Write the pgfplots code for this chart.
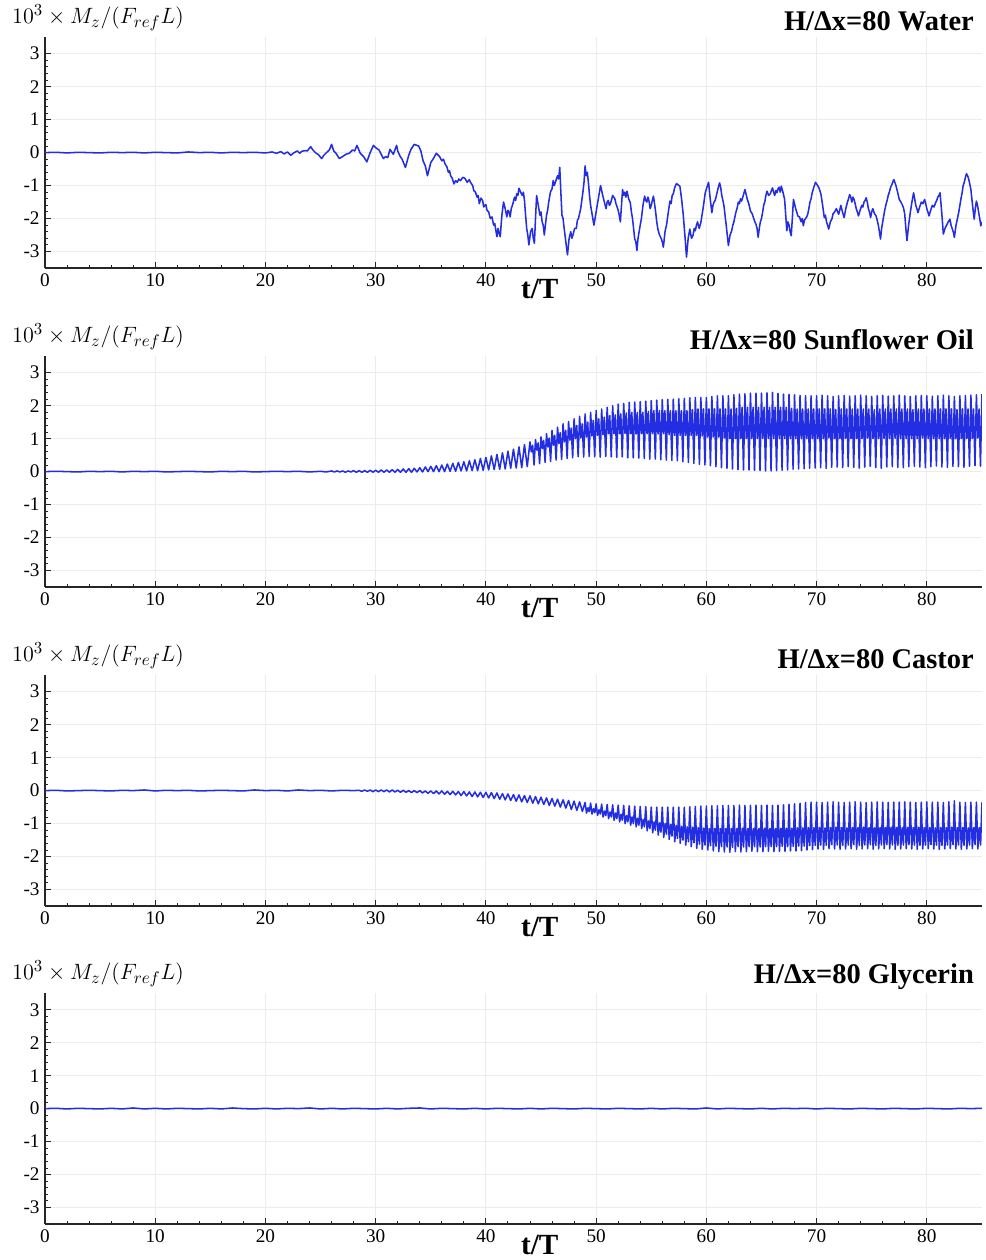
\documentclass[border=0pt]{standalone}
\usepackage{fontspec}
\setmainfont{Liberation Serif}
\usepackage{pgfplots}
\pgfplotsset{compat=1.18}

\definecolor{lineblue}{RGB}{35,45,225}

\pgfplotsset{
  panel/.style={
    scale only axis,
    width=609pt, height=150pt,
    xmin=0, xmax=85, ymin=-3.5, ymax=3.5,
    axis x line*=bottom, axis y line*=left,
    axis line style={-, line width=0.9pt, black!85},
    xtick={0,10,...,80}, ytick={-3,...,3},
    xticklabels={0,10,20,30,40,50,60,70,80},
    yticklabels={-3,-2,-1,0,1,2,3},
    minor x tick num=4, minor y tick num=4,
    tick align=inside,
    major tick length=4pt, minor tick length=2pt,
    tick style={black!85, line width=0.6pt},
    grid=major,
    major grid style={gray!15, line width=0.6pt},
    tick label style={font=\fontsize{12.5}{14}\selectfont},
    clip mode=individual,
  },
  mz/.style={draw=lineblue, line width=1pt, line join=round, mark=none},
}

\newcommand{\paneltext}[1]{%
  \node[anchor=east, xshift=-1.75pt, yshift=10.5pt, font=\fontsize{18.5}{20}\selectfont\bfseries]
    at (rel axis cs:1,1) {#1};
  \node[anchor=west, inner sep=0pt, xshift=-21.5pt, yshift=12.5pt, font=\fontsize{15.2}{17}\selectfont]
    at (rel axis cs:0,1) {$10^3\times M_z/(F_{ref}L)$};
  \node[inner sep=0pt, yshift=-13.5pt, font=\fontsize{19}{21}\selectfont\bfseries]
    at (rel axis cs:0.528,0) {t/T};
}

\begin{document}
\begin{tikzpicture}
\useasboundingbox (-29.25pt,-644.8pt) rectangle (611pt,174.2pt);

% ---------------- Water ----------------
\begin{axis}[panel, at={(0pt,0pt)}]
\addplot[mz] coordinates {
(0,0)(1,0.01)(2,-0.01)(3,0.01)(4,0)(5,-0.01)(6,0.01)(7,0)(8,0.01)(9,-0.01)
(10,0.01)(11,0)(12,-0.01)(13,0.02)(14,0)(15,0.01)(16,-0.01)(17,0.01)(18,0)(19,0.01)(20,-0.01)
(20.6,0.02)(21.0,-0.02)(21.4,0.03)(21.7,-0.04)(22.0,0.02)(22.3,-0.08)(22.6,0.0)(22.9,0.05)
(23.1,-0.02)(23.3,0.04)(23.6,0.06)(23.8,0.05)(24.1,0.18)(24.3,0.08)(24.6,-0.02)(24.8,-0.06)
(25.1,-0.18)(25.3,-0.08)(25.6,0.02)(25.8,0.08)(26.0,0.25)(26.2,0.05)(26.4,-0.02)(26.7,-0.18)
(27.0,-0.12)(27.3,-0.05)(27.6,-0.02)(27.9,0.08)(28.1,0.05)(28.3,0.22)(28.6,-0.02)(28.9,-0.12)
(29.2,-0.28)(29.5,0.0)(29.8,0.22)(30.0,0.15)(30.3,0.08)(30.5,-0.05)(30.7,-0.18)(30.9,-0.12)
(31.1,-0.15)(31.3,0.1)(31.6,-0.05)(31.9,0.22)(32.0,0.05)(32.2,-0.1)(32.4,-0.2)(32.7,-0.45)
(33.0,-0.08)(33.2,0.1)(33.5,0.25)(33.9,0.2)(34.1,0.05)(34.3,-0.25)(34.5,-0.4)(34.7,-0.7)
(35.0,-0.3)(35.2,-0.2)(35.5,-0.02)(35.8,-0.12)
(36.0,-0.25)(36.15,-0.2)(36.3,-0.35)(36.45,-0.42)(36.6,-0.6)(36.7,-0.55)(36.8,-0.7)(36.95,-0.78)
(37.1,-0.95)(37.25,-0.85)(37.4,-0.9)(37.55,-0.8)(37.7,-0.85)(37.9,-0.75)(38.1,-0.78)(38.3,-0.9)
(38.5,-0.82)(38.6,-0.9)(38.7,-0.95)(38.8,-1.0)(38.9,-1.15)(39.05,-1.2)(39.2,-1.35)(39.3,-1.3)
(39.4,-1.55)(39.55,-1.38)(39.7,-1.45)(39.8,-1.65)(39.9,-1.6)(40.0,-1.58)(40.1,-1.75)(40.25,-1.8)
(40.4,-2.0)(40.55,-1.95)(40.7,-2.2)(40.8,-2.15)(40.9,-2.35)(41.0,-2.55)(41.1,-2.3)(41.2,-2.45)
(41.3,-2.55)(41.45,-1.9)(41.6,-1.5)(41.75,-1.7)(41.9,-1.95)(42.0,-1.75)(42.1,-1.8)(42.2,-1.95)
(42.3,-1.7)(42.45,-1.55)(42.6,-1.35)(42.7,-1.45)(42.8,-1.25)(42.9,-1.3)(43.0,-1.08)(43.15,-1.2)
(43.3,-1.3)(43.4,-1.2)(43.5,-1.45)(43.6,-1.9)(43.7,-2.3)(43.8,-2.5)(43.9,-2.8)(44.05,-2.4)
(44.2,-2.3)(44.3,-2.6)(44.4,-2.75)(44.5,-2.0)(44.6,-1.3)(44.75,-1.6)(44.9,-1.9)(45.0,-1.8)
(45.1,-2.1)(45.2,-2.2)(45.3,-2.5)(45.4,-2.2)(45.5,-1.9)(45.6,-1.75)(45.7,-1.5)(45.85,-1.2)
(46.0,-1.1)(46.1,-0.85)(46.2,-1.0)(46.3,-0.9)(46.4,-0.8)(46.5,-0.7)(46.6,-0.8)(46.7,-0.45)
(46.8,-1.2)(46.9,-1.9)(47.0,-2.0)(47.1,-2.3)(47.25,-2.7)(47.4,-3.1)(47.55,-2.6)(47.7,-2.4)
(47.8,-2.6)(47.9,-2.5)(48.05,-2.3)(48.2,-2.3)(48.3,-2.05)(48.4,-2.0)(48.5,-1.85)(48.6,-1.7)
(48.7,-1.45)(48.8,-1.2)(48.9,-0.9)(49.0,-0.4)(49.05,-0.55)(49.1,-0.7)(49.2,-0.6)(49.3,-0.9)
(49.4,-1.3)(49.5,-1.6)(49.65,-1.9)(49.8,-2.2)(49.95,-1.9)(50.1,-1.6)(50.25,-1.3)(50.4,-1.0)
(50.5,-1.15)(50.6,-1.3)(50.75,-1.5)(50.9,-1.7)(51.0,-1.5)(51.1,-1.45)(51.2,-1.6)(51.3,-1.55)
(51.5,-1.3)(51.7,-1.4)(51.8,-1.55)(51.9,-1.65)(52.0,-1.75)(52.1,-1.9)(52.2,-2.1)(52.3,-1.6)
(52.4,-1.12)(52.5,-1.3)(52.6,-1.2)(52.7,-1.35)(52.8,-1.17)(52.95,-1.4)(53.1,-1.52)(53.2,-1.8)
(53.3,-2.0)(53.4,-2.3)(53.5,-2.62)(53.6,-2.7)(53.7,-2.97)(53.8,-2.6)(53.9,-2.4)(54.0,-2.2)
(54.1,-2.02)(54.25,-1.6)(54.4,-1.32)(54.5,-1.45)(54.6,-1.5)(54.7,-1.35)(54.8,-1.47)(54.9,-1.7)
(55.0,-1.6)(55.1,-1.45)(55.2,-1.32)(55.3,-1.55)(55.4,-1.8)(55.5,-2.1)(55.6,-2.32)(55.75,-2.5)
(55.9,-2.6)(56.0,-2.7)(56.1,-2.87)(56.25,-2.4)(56.4,-2.17)(56.55,-1.8)(56.7,-1.47)(56.8,-1.55)
(56.9,-1.3)(57.0,-1.25)(57.1,-1.1)(57.2,-1.0)(57.3,-0.94)(57.45,-0.98)(57.6,-1.02)(57.75,-1.4)
(57.9,-1.87)(58.05,-2.5)(58.2,-3.17)(58.35,-2.6)(58.5,-2.32)(58.65,-2.6)(58.8,-2.5)(58.9,-2.3)
(59.0,-2.37)(59.1,-2.2)(59.2,-2.1)(59.35,-2.3)(59.5,-2.12)(59.7,-1.7)(59.9,-1.22)(60.05,-1.05)
(60.2,-0.9)(60.35,-1.4)(60.5,-1.82)(60.6,-1.6)(60.7,-1.5)(60.8,-1.45)(60.9,-1.32)(61.05,-1.1)
(61.2,-0.92)(61.3,-1.05)(61.4,-1.3)(61.5,-1.45)(61.6,-1.62)(61.8,-2.2)(62.0,-2.82)(62.15,-2.5)
(62.3,-2.37)(62.4,-2.2)(62.5,-2.1)(62.65,-1.85)(62.8,-1.67)(62.9,-1.5)(63.0,-1.55)(63.1,-1.4)
(63.2,-1.47)(63.35,-1.3)(63.5,-1.12)(63.6,-1.25)(63.7,-1.4)(63.85,-1.55)(64.0,-1.77)(64.15,-1.85)
(64.3,-2.0)(64.4,-2.1)(64.5,-2.17)(64.6,-2.3)(64.7,-2.57)(64.8,-2.3)(64.9,-2.1)(65.0,-2.0)
(65.1,-1.82)(65.2,-1.6)(65.3,-1.5)(65.4,-1.3)(65.5,-1.17)(65.65,-1.3)(65.8,-1.25)(65.9,-1.15)
(66.0,-1.07)(66.1,-1.2)(66.2,-1.3)(66.3,-1.15)(66.4,-1.22)(66.5,-1.1)(66.6,-1.05)(66.7,-1.2)
(66.8,-1.02)(66.95,-1.2)(67.1,-1.42)(67.2,-1.9)(67.3,-2.37)(67.4,-2.1)(67.5,-2.2)(67.6,-2.4)
(67.7,-2.52)(67.8,-2.0)(67.9,-1.42)(68.0,-1.55)(68.1,-1.7)(68.2,-1.8)(68.3,-1.92)(68.45,-1.95)
(68.6,-2.1)(68.7,-2.0)(68.8,-2.22)(68.9,-2.05)(69.0,-2.0)(69.1,-1.95)(69.2,-1.87)(69.3,-1.7)
(69.4,-1.5)(69.5,-1.4)(69.6,-1.22)(69.75,-1.05)(69.9,-0.9)(70.0,-0.95)(70.1,-1.0)(70.25,-1.1)
(70.4,-1.27)(70.55,-1.6)(70.7,-1.97)(70.8,-1.9)(70.9,-2.1)(71.0,-2.2)(71.1,-2.32)(71.25,-2.1)
(71.4,-2.0)(71.5,-1.85)(71.6,-1.82)(71.8,-1.7)(72.0,-1.87)(72.1,-1.75)(72.2,-1.6)(72.35,-1.8)
(72.5,-1.97)(72.65,-1.7)(72.8,-1.5)(72.9,-1.4)(73.0,-1.27)(73.1,-1.35)(73.2,-1.5)(73.3,-1.35)
(73.4,-1.42)(73.5,-1.55)(73.6,-1.7)(73.7,-1.8)(73.8,-1.92)(73.95,-1.75)(74.1,-1.6)(74.2,-1.65)
(74.3,-1.5)(74.4,-1.45)(74.5,-1.37)(74.6,-1.5)(74.7,-1.7)(74.8,-1.8)(74.9,-1.97)(75.0,-1.8)
(75.1,-1.7)(75.25,-1.85)(75.4,-1.92)(75.5,-2.05)(75.6,-2.2)(75.7,-2.4)(75.8,-2.62)(75.9,-2.3)
(76.0,-2.1)(76.15,-1.8)(76.3,-1.57)(76.4,-1.45)(76.5,-1.3)(76.6,-1.2)(76.7,-1.07)(76.85,-0.95)
(77.0,-0.82)(77.1,-0.9)(77.2,-1.0)(77.35,-1.2)(77.5,-1.42)(77.65,-1.5)(77.8,-1.6)(77.9,-1.7)
(78.0,-1.87)(78.1,-2.3)(78.2,-2.67)(78.35,-2.2)(78.5,-1.82)(78.65,-1.5)(78.8,-1.22)(78.9,-1.4)
(79.0,-1.6)(79.1,-1.7)(79.2,-1.82)(79.35,-1.65)(79.5,-1.5)(79.65,-1.55)(79.8,-1.42)(79.9,-1.55)
(80.0,-1.7)(80.1,-1.8)(80.2,-1.92)(80.35,-1.75)(80.5,-1.6)(80.65,-1.65)(80.8,-1.52)(80.9,-1.45)
(81.0,-1.35)(81.1,-1.3)(81.2,-1.22)(81.35,-1.8)(81.5,-2.47)(81.65,-2.3)(81.8,-2.2)(81.95,-2.1)
(82.1,-2.02)(82.2,-2.2)(82.3,-2.3)(82.4,-2.4)(82.5,-2.57)(82.65,-2.2)(82.8,-1.97)(82.9,-1.8)
(83.0,-1.6)(83.1,-1.4)(83.2,-1.22)(83.3,-1.0)(83.4,-0.9)(83.5,-0.75)(83.6,-0.64)(83.7,-0.7)
(83.8,-0.8)(83.9,-0.95)(84.0,-1.12)(84.15,-1.6)(84.3,-2.02)(84.4,-1.7)(84.5,-1.47)(84.6,-1.6)
(84.7,-1.8)(84.8,-2.0)(84.9,-2.22)(85.0,-2.1)
};
\paneltext{H/Δx=80 Water}
\end{axis}

% ---------------- Sunflower Oil ----------------
\begin{axis}[panel, at={(0pt,-207.35pt)}]
\addplot[mz] coordinates {
(0,0)(1,0.01)(2,0)(3,-0.01)(4,0.01)(5,0)(6,0.01)(7,-0.01)(8,0.01)(9,0)(10,0.01)(11,-0.01)
(12,0)(13,0.01)(14,0)(15,-0.01)(16,0.01)(17,0)(18,0.01)(19,-0.01)(20,0)(21,0.01)(22,0)
(23,0.01)(24,-0.01)(25,0.01)(25.5,-0.01)
(26,0.02)(26.25,-0.01)(26.5,0.02)(26.75,-0.01)(27,0.02)(27.25,-0.02)(27.5,0.02)(27.75,-0.01)
(28,0.03)(28.25,-0.02)(28.5,0.03)(28.75,-0.02)(29,0.03)(29.25,-0.02)(29.5,0.04)(29.75,-0.02)
(30,0.04)(30.25,-0.02)(30.5,0.05)(30.75,-0.02)(31,0.05)(31.25,-0.02)(31.5,0.06)(31.75,-0.02)
(32,0.07)(32.25,-0.02)(32.5,0.08)(32.75,-0.02)(33,0.09)(33.25,-0.02)(33.5,0.10)(33.75,-0.01)
(34,0.12)(34.25,-0.01)(34.5,0.14)(34.75,0.00)(35,0.16)(35.25,0.00)(35.5,0.18)(35.75,0.00)
(36,0.20)(36.25,0.00)(36.5,0.23)(36.75,0.01)(37,0.25)(37.25,0.01)(37.5,0.28)(37.75,0.02)
(38,0.30)(38.25,0.02)(38.5,0.33)(38.75,0.03)(39,0.36)(39.25,0.03)(39.5,0.40)(39.75,0.04)
(40,0.43)(40.25,0.05)(40.5,0.48)(40.75,0.06)(41,0.52)(41.25,0.07)(41.5,0.57)(41.75,0.08)
(42,0.62)(42.25,0.10)(42.5,0.68)(42.75,0.11)(43,0.75)(43.25,0.12)(43.5,0.82)(43.75,0.15)
(44,0.90)(44.12,0.60)(44.24,0.80)(44.37,0.20)
(44.5,0.97)(44.62,0.65)(44.74,0.87)(44.87,0.24)
(45,1.05)(45.12,0.70)(45.24,0.95)(45.37,0.28)
(45.5,1.15)(45.62,0.75)(45.74,1.02)(45.87,0.31)
(46,1.25)(46.12,0.80)(46.24,1.10)(46.37,0.35)
(46.5,1.35)(46.62,0.85)(46.74,1.18)(46.87,0.37)
(47,1.45)(47.12,0.90)(47.24,1.25)(47.37,0.40)
(47.5,1.52)(47.62,0.95)(47.74,1.32)(47.87,0.42)
(48,1.60)(48.12,1.00)(48.24,1.40)(48.37,0.45)
(48.5,1.68)(48.62,1.02)(48.74,1.45)(48.87,0.44)
(49,1.75)(49.12,1.05)(49.24,1.50)(49.37,0.46)
(49.5,1.80)(49.62,1.08)(49.74,1.55)(49.87,0.45)
(50,1.85)(50.12,1.10)(50.24,1.60)(50.37,0.44)
(50.5,1.90)(50.62,1.12)(50.74,1.65)(50.87,0.46)
(51,1.95)(51.12,1.15)(51.24,1.70)(51.37,0.45)
(51.5,2.00)(51.62,1.15)(51.74,1.72)(51.87,0.43)
(52,2.05)(52.12,1.15)(52.24,1.75)(52.37,0.45)
(52.5,2.07)(52.62,1.16)(52.74,1.78)(52.87,0.42)
(53,2.10)(53.12,1.15)(53.24,1.80)(53.37,0.42)
(53.5,2.11)(53.62,1.14)(53.74,1.80)(53.87,0.41)
(54,2.12)(54.12,1.15)(54.24,1.80)(54.37,0.40)
(54.5,2.14)(54.62,1.15)(54.74,1.83)(54.87,0.38)
(55,2.15)(55.12,1.15)(55.24,1.85)(55.37,0.38)
(55.5,2.17)(55.62,1.14)(55.74,1.85)(55.87,0.36)
(56,2.18)(56.12,1.15)(56.24,1.85)(56.37,0.35)
(56.5,2.19)(56.62,1.12)(56.74,1.85)(56.87,0.34)
(57,2.20)(57.12,1.10)(57.24,1.85)(57.37,0.33)
(57.5,2.21)(57.62,1.10)(57.74,1.85)(57.87,0.30)
(58,2.22)(58.12,1.10)(58.24,1.85)(58.37,0.28)
(58.5,2.24)(58.62,1.10)(58.74,1.88)(58.87,0.25)
(59,2.25)(59.12,1.10)(59.24,1.90)(59.37,0.22)
(59.5,2.25)(59.62,1.08)(59.74,1.90)(59.87,0.20)
(60,2.25)(60.12,1.05)(60.24,1.90)(60.37,0.18)
(60.5,2.28)(60.62,1.05)(60.74,1.90)(60.87,0.15)
(61,2.30)(61.12,1.05)(61.24,1.90)(61.37,0.12)
(61.5,2.30)(61.62,1.02)(61.74,1.90)(61.87,0.10)
(62,2.30)(62.12,1.00)(62.24,1.90)(62.37,0.08)
(62.5,2.33)(62.62,1.00)(62.74,1.92)(62.87,0.06)
(63,2.35)(63.12,1.00)(63.24,1.95)(63.37,0.05)
(63.5,2.36)(63.62,1.00)(63.74,1.95)(63.87,0.05)
(64,2.38)(64.12,1.00)(64.24,1.95)(64.37,0.04)
(64.5,2.38)(64.62,1.00)(64.74,1.95)(64.87,0.03)
(65,2.38)(65.12,1.00)(65.24,1.95)(65.37,0.02)
(65.5,2.39)(65.62,1.00)(65.74,1.95)(65.87,0.02)
(66,2.40)(66.12,1.00)(66.24,1.95)(66.37,0.03)
(66.5,2.37)(66.62,1.00)(66.74,1.95)(66.87,0.04)
(67,2.35)(67.12,1.00)(67.24,1.95)(67.37,0.05)
(67.5,2.34)(67.62,1.00)(67.74,1.92)(67.87,0.07)
(68,2.33)(68.12,1.00)(68.24,1.90)(68.37,0.08)
(68.5,2.31)(68.62,1.00)(68.74,1.90)(68.87,0.09)
(69,2.30)(69.12,1.00)(69.24,1.90)(69.37,0.10)
(69.5,2.30)(69.62,1.00)(69.74,1.90)(69.87,0.11)
(70,2.30)(70.12,1.00)(70.24,1.90)(70.37,0.12)
(70.5,2.32)(70.62,1.00)(70.74,1.90)(70.87,0.10)
(71,2.30)(71.12,1.02)(71.24,1.90)(71.37,0.13)
(71.5,2.28)(71.62,1.00)(71.74,1.88)(71.87,0.14)
(72,2.30)(72.12,1.00)(72.24,1.90)(72.37,0.12)
(72.5,2.31)(72.62,1.01)(72.74,1.90)(72.87,0.15)
(73,2.29)(73.12,1.00)(73.24,1.90)(73.37,0.13)
(73.5,2.30)(73.62,1.00)(73.74,1.90)(73.87,0.11)
(74,2.32)(74.12,1.00)(74.24,1.90)(74.37,0.14)
(74.5,2.30)(74.62,1.02)(74.74,1.90)(74.87,0.16)
(75,2.28)(75.12,1.00)(75.24,1.88)(75.37,0.12)
(75.5,2.30)(75.62,1.00)(75.74,1.90)(75.87,0.10)
(76,2.31)(76.12,1.00)(76.24,1.90)(76.37,0.14)
(76.5,2.29)(76.62,1.00)(76.74,1.90)(76.87,0.15)
(77,2.30)(77.12,1.01)(77.24,1.90)(77.37,0.13)
(77.5,2.32)(77.62,1.00)(77.74,1.90)(77.87,0.12)
(78,2.30)(78.12,1.00)(78.24,1.90)(78.37,0.15)
(78.5,2.28)(78.62,1.00)(78.74,1.88)(78.87,0.16)
(79,2.30)(79.12,1.00)(79.24,1.90)(79.37,0.14)
(79.5,2.31)(79.62,1.02)(79.74,1.90)(79.87,0.12)
(80,2.30)(80.12,1.00)(80.24,1.90)(80.37,0.15)
(80.5,2.29)(80.62,1.00)(80.74,1.90)(80.87,0.17)
(81,2.30)(81.12,1.00)(81.24,1.90)(81.37,0.14)
(81.5,2.32)(81.62,1.00)(81.74,1.90)(81.87,0.13)
(82,2.30)(82.12,1.01)(82.24,1.90)(82.37,0.16)
(82.5,2.28)(82.62,1.00)(82.74,1.88)(82.87,0.15)
(83,2.30)(83.12,1.00)(83.24,1.90)(83.37,0.13)
(83.5,2.31)(83.62,1.00)(83.74,1.90)(83.87,0.16)
(84,2.32)(84.12,1.00)(84.24,1.90)(84.37,0.18)
(84.5,2.33)(84.62,1.02)(84.74,1.90)(84.87,0.17)
(85,2.35)
};
\paneltext{H/Δx=80 Sunflower Oil}
\end{axis}

% ---------------- Castor ----------------
\begin{axis}[panel, at={(0pt,-414.7pt)}]
\addplot[mz] coordinates {
(0,0)(1,0.01)(2,-0.01)(3,0)(4,0.01)(5,0)(6,-0.01)(7,0.01)(8,0)(9,0.02)(10,-0.01)(11,0.01)
(12,0)(13,0.01)(14,-0.01)(15,0)(16,0.01)(17,0)(18,-0.01)(19,0.02)(20,0)(21,0.01)(22,-0.01)
(23,0.02)(24,0)(25,0.01)(26,-0.01)(27,0.01)(28,0)(28.5,0.01)(28.75,-0.02)
(29,0.02)(29.25,-0.02)(29.5,0.02)(29.75,-0.03)(30,0.02)(30.25,-0.03)(30.5,0.02)(30.75,-0.03)
(31,0.02)(31.25,-0.04)(31.5,0.02)(31.75,-0.04)(32,0.01)(32.25,-0.05)(32.5,0.01)(32.75,-0.05)
(33,0.00)(33.25,-0.06)(33.5,0.00)(33.75,-0.06)(34,0.00)(34.25,-0.07)(34.5,-0.01)(34.75,-0.08)
(35,-0.01)(35.25,-0.09)(35.5,-0.01)(35.75,-0.10)(36,-0.01)(36.25,-0.11)(36.5,-0.02)(36.75,-0.12)
(37,-0.02)(37.25,-0.13)(37.5,-0.03)(37.75,-0.15)(38,-0.03)(38.25,-0.16)(38.5,-0.04)(38.75,-0.18)
(39,-0.04)(39.25,-0.19)(39.5,-0.05)(39.75,-0.21)(40,-0.05)(40.25,-0.22)(40.5,-0.06)(40.75,-0.24)
(41,-0.07)(41.25,-0.26)(41.5,-0.09)(41.75,-0.28)(42,-0.10)(42.25,-0.30)(42.5,-0.12)(42.75,-0.32)
(43,-0.13)(43.25,-0.34)(43.5,-0.15)(43.75,-0.36)(44,-0.16)(44.25,-0.38)(44.5,-0.18)(44.75,-0.40)
(45,-0.20)(45.25,-0.42)(45.5,-0.22)(45.75,-0.45)(46,-0.24)(46.25,-0.47)(46.5,-0.26)(46.75,-0.50)
(47,-0.28)(47.25,-0.53)(47.5,-0.30)(47.75,-0.57)(48,-0.32)(48.25,-0.60)(48.5,-0.34)(48.75,-0.63)
(49,-0.36)(49.13,-0.68)(49.26,-0.52)(49.38,-0.64)
(49.5,-0.38)(49.63,-0.71)(49.76,-0.55)(49.88,-0.67)
(50,-0.40)(50.13,-0.75)(50.26,-0.58)(50.38,-0.71)
(50.5,-0.41)(50.63,-0.80)(50.76,-0.62)(50.88,-0.76)
(51,-0.42)(51.13,-0.85)(51.26,-0.65)(51.38,-0.80)
(51.5,-0.43)(51.63,-0.90)(51.76,-0.68)(51.88,-0.85)
(52,-0.44)(52.13,-0.95)(52.26,-0.72)(52.38,-0.90)
(52.5,-0.45)(52.63,-1.00)(52.76,-0.76)(52.88,-0.95)
(53,-0.46)(53.13,-1.05)(53.26,-0.80)(53.38,-1.00)
(53.5,-0.47)(53.63,-1.10)(53.76,-0.84)(53.88,-1.05)
(54,-0.48)(54.13,-1.15)(54.26,-0.88)(54.38,-1.10)
(54.5,-0.49)(54.63,-1.22)(54.76,-0.92)(54.88,-1.15)
(55,-0.50)(55.13,-1.28)(55.26,-0.95)(55.38,-1.20)
(55.5,-0.50)(55.63,-1.35)(55.76,-0.98)(55.88,-1.26)
(56,-0.50)(56.13,-1.42)(56.26,-1.00)(56.38,-1.32)
(56.5,-0.50)(56.63,-1.48)(56.76,-1.03)(56.88,-1.38)
(57,-0.50)(57.13,-1.55)(57.26,-1.05)(57.38,-1.45)
(57.5,-0.50)(57.63,-1.60)(57.76,-1.08)(57.88,-1.50)
(58,-0.50)(58.13,-1.65)(58.26,-1.10)(58.38,-1.55)
(58.5,-0.49)(58.63,-1.70)(58.76,-1.11)(58.88,-1.58)
(59,-0.48)(59.13,-1.75)(59.26,-1.12)(59.38,-1.62)
(59.5,-0.47)(59.63,-1.78)(59.76,-1.14)(59.88,-1.65)
(60,-0.47)(60.13,-1.80)(60.26,-1.15)(60.38,-1.67)
(60.5,-0.46)(60.63,-1.83)(60.76,-1.15)(60.88,-1.69)
(61,-0.46)(61.13,-1.85)(61.26,-1.15)(61.38,-1.70)
(61.5,-0.45)(61.63,-1.86)(61.76,-1.15)(61.88,-1.71)
(62,-0.45)(62.13,-1.87)(62.26,-1.15)(62.38,-1.72)
(62.5,-0.45)(62.63,-1.85)(62.76,-1.15)(62.88,-1.70)
(63,-0.44)(63.13,-1.86)(63.26,-1.14)(63.38,-1.71)
(63.5,-0.45)(63.63,-1.85)(63.76,-1.15)(63.88,-1.70)
(64,-0.45)(64.13,-1.84)(64.26,-1.15)(64.38,-1.70)
(64.5,-0.44)(64.63,-1.85)(64.76,-1.15)(64.88,-1.71)
(65,-0.45)(65.13,-1.85)(65.26,-1.14)(65.38,-1.70)
(65.5,-0.44)(65.63,-1.84)(65.76,-1.15)(65.88,-1.70)
(66,-0.45)(66.13,-1.85)(66.26,-1.15)(66.38,-1.70)
(66.5,-0.44)(66.63,-1.84)(66.76,-1.14)(66.88,-1.69)
(67,-0.43)(67.13,-1.84)(67.26,-1.14)(67.38,-1.70)
(67.5,-0.42)(67.63,-1.83)(67.76,-1.14)(67.88,-1.69)
(68,-0.40)(68.13,-1.83)(68.26,-1.13)(68.38,-1.68)
(68.5,-0.38)(68.63,-1.82)(68.76,-1.13)(68.88,-1.68)
(69,-0.36)(69.13,-1.80)(69.26,-1.12)(69.38,-1.67)
(69.5,-0.35)(69.63,-1.79)(69.76,-1.12)(69.88,-1.66)
(70,-0.35)(70.13,-1.77)(70.26,-1.12)(70.38,-1.65)
(70.5,-0.36)(70.63,-1.78)(70.76,-1.13)(70.88,-1.66)
(71,-0.35)(71.13,-1.76)(71.26,-1.12)(71.38,-1.64)
(71.5,-0.34)(71.63,-1.77)(71.76,-1.11)(71.88,-1.65)
(72,-0.35)(72.13,-1.78)(72.26,-1.12)(72.38,-1.66)
(72.5,-0.36)(72.63,-1.77)(72.76,-1.13)(72.88,-1.65)
(73,-0.35)(73.13,-1.76)(73.26,-1.12)(73.38,-1.64)
(73.5,-0.34)(73.63,-1.78)(73.76,-1.12)(73.88,-1.66)
(74,-0.35)(74.13,-1.77)(74.26,-1.11)(74.38,-1.65)
(74.5,-0.36)(74.63,-1.76)(74.76,-1.12)(74.88,-1.64)
(75,-0.35)(75.13,-1.78)(75.26,-1.13)(75.38,-1.66)
(75.5,-0.34)(75.63,-1.77)(75.76,-1.12)(75.88,-1.65)
(76,-0.35)(76.13,-1.76)(76.26,-1.12)(76.38,-1.64)
(76.5,-0.36)(76.63,-1.77)(76.76,-1.11)(76.88,-1.65)
(77,-0.35)(77.13,-1.78)(77.26,-1.12)(77.38,-1.66)
(77.5,-0.35)(77.63,-1.77)(77.76,-1.13)(77.88,-1.65)
(78,-0.34)(78.13,-1.76)(78.26,-1.12)(78.38,-1.64)
(78.5,-0.35)(78.63,-1.77)(78.76,-1.12)(78.88,-1.65)
(79,-0.36)(79.13,-1.78)(79.26,-1.11)(79.38,-1.66)
(79.5,-0.35)(79.63,-1.77)(79.76,-1.12)(79.88,-1.65)
(80,-0.34)(80.13,-1.76)(80.26,-1.12)(80.38,-1.64)
(80.5,-0.35)(80.63,-1.77)(80.76,-1.13)(80.88,-1.65)
(81,-0.35)(81.13,-1.78)(81.26,-1.12)(81.38,-1.66)
(81.5,-0.36)(81.63,-1.77)(81.76,-1.12)(81.88,-1.65)
(82,-0.34)(82.13,-1.76)(82.26,-1.11)(82.38,-1.64)
(82.5,-0.31)(82.63,-1.77)(82.76,-1.12)(82.88,-1.65)
(83,-0.35)(83.13,-1.78)(83.26,-1.12)(83.38,-1.66)
(83.5,-0.36)(83.63,-1.77)(83.76,-1.13)(83.88,-1.65)
(84,-0.35)(84.13,-1.76)(84.26,-1.12)(84.38,-1.64)
(84.5,-0.35)(84.63,-1.77)(84.76,-1.12)(84.88,-1.65)
(85,-0.36)
};
\paneltext{H/Δx=80 Castor}
\end{axis}

% ---------------- Glycerin ----------------
\begin{axis}[panel, at={(0pt,-621.4pt)}]
\addplot[mz] coordinates {
(0,0)(1,0.01)(2,-0.01)(3,0.01)(4,0)(5,-0.01)(6,0.01)(7,-0.01)(8,0.02)(9,-0.01)(10,0.01)
(11,-0.01)(12,0.01)(13,0)(14,-0.01)(15,0.01)(16,-0.01)(17,0.02)(18,0)(19,-0.01)(20,0.01)
(21,-0.01)(22,0.01)(23,0)(24,0.02)(25,-0.01)(26,0.01)(27,-0.01)(28,0.01)(29,0)(30,-0.01)
(31,0.01)(32,-0.01)(33,0.01)(34,0.02)(35,-0.01)(36,0.01)(37,0)(38,-0.01)(39,0.01)(40,-0.01)
(41,0.01)(42,0)(43,-0.01)(44,0.01)(45,-0.01)(46,0.01)(47,0)(48,-0.01)(49,0.01)(50,0)
(51,-0.01)(52,0.01)(53,0)(54,-0.01)(55,0.01)(56,-0.01)(57,0.01)(58,0)(59,-0.01)(60,0.02)
(61,-0.01)(62,0.01)(63,0)(64,-0.01)(65,0.01)(66,-0.01)(67,0.01)(68,0)(69,0.01)(70,-0.01)
(71,0.01)(72,0)(73,-0.01)(74,0.01)(75,0)(76,-0.01)(77,0.01)(78,0)(79,-0.01)(80,0.01)
(81,0)(82,-0.01)(83,0.01)(84,0)(85,0.01)
};
\paneltext{H/Δx=80 Glycerin}
\end{axis}

\end{tikzpicture}
\end{document}
